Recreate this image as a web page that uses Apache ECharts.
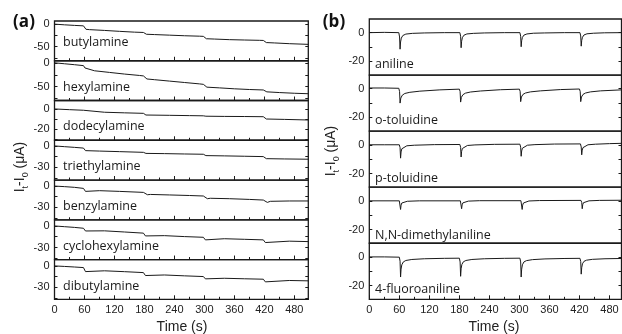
<!DOCTYPE html>
<html><head><meta charset="utf-8">
<script src="https://cdn.jsdelivr.net/npm/echarts@6/dist/echarts.min.js"></script>
<style>html,body{margin:0;padding:0;background:#fff}#c{width:622px;height:334px}</style>
</head><body><div id="c"></div>
<script>
// ---- tick values ----
const xMajorTicks = [0, 60, 120, 180, 240, 300, 360, 420, 480];
const xMinorTicks = [30, 90, 150, 210, 270, 330, 390, 450];

// ---- panel (a): amines, time (s) vs It-I0 (uA) ----
const leftNames = ['butylamine', 'hexylamine', 'dodecylamine', 'triethylamine', 'benzylamine', 'cyclohexylamine', 'dibutylamine'];
const butylamine = [[0,0],[20,-1.5],[40,-2.8],[58,-3.8],[61,-8],[63,-11.5],[70,-12.2],[100,-14],[130,-16],[160,-17.8],[178,-18.5],[181,-20.5],[184,-22.5],[200,-23.2],[230,-24.5],[260,-25.8],[290,-26.8],[298,-27.2],[301,-30],[304,-32.5],[320,-33.2],[350,-34.5],[380,-35.3],[410,-36],[418,-36.3],[421,-39],[424,-41],[440,-41.8],[470,-43.5],[508,-45]];
const hexylamine = [[0,1],[20,-1],[40,-3],[58,-5],[61,-10],[64,-14],[80,-16],[110,-19.5],[140,-23],[170,-26],[178,-27],[181,-30.5],[185,-33.5],[200,-35],[230,-38],[260,-41],[290,-44],[298,-45],[301,-48.5],[305,-51],[330,-52.5],[360,-54.5],[390,-56],[418,-57],[421,-59.5],[425,-61],[450,-62.5],[480,-64],[508,-65]];
const dodecylamine = [[0,0.5],[30,-0.2],[58,-0.8],[62,-2.2],[100,-2.8],[140,-3.4],[178,-3.9],[183,-5.6],[230,-5.9],[270,-6.2],[298,-6.4],[303,-6.8],[340,-7],[380,-7.1],[418,-7.3],[424,-9.6],[460,-10],[508,-10.6]];
const triethylamine = [[0,0],[20,-1],[40,-2],[58,-3],[62,-6.6],[90,-7.2],[130,-8],[178,-9],[183,-10.5],[220,-10.8],[260,-11.3],[298,-11.7],[303,-13.6],[340,-14],[380,-14.5],[418,-15],[424,-17.9],[460,-18.3],[508,-18.7]];
const benzylamine = [[0,0],[20,-0.8],[40,-1.8],[58,-3.3],[62,-7.5],[66,-6.3],[90,-6.5],[130,-7.5],[178,-8.9],[182,-11.2],[186,-12.2],[192,-11.8],[230,-12.5],[270,-13.3],[298,-14],[302,-16.5],[306,-17.8],[312,-17.2],[350,-17.8],[390,-18.8],[418,-19.7],[422,-22],[426,-23],[432,-21.5],[470,-21],[508,-21]];
const cyclohexylamine = [[0,0],[20,-1],[40,-2],[58,-3.2],[62,-7],[66,-5.6],[100,-6.8],[140,-8.4],[178,-10],[182,-13.9],[186,-12.5],[220,-13.5],[260,-14.8],[298,-15.8],[302,-19.4],[306,-17.5],[340,-17.8],[380,-18.6],[418,-19.4],[422,-23.1],[426,-21.3],[470,-21.2],[508,-21.8]];
const dibutylamine = [[0,0],[20,-0.7],[40,-1.5],[58,-2.3],[62,-7.9],[66,-5.6],[100,-6.8],[140,-8],[178,-9.3],[182,-13.4],[186,-11.6],[220,-12.6],[260,-13.8],[298,-14.8],[302,-18],[306,-16.7],[340,-17.2],[380,-17.9],[418,-18.5],[422,-22.2],[426,-20.4],[470,-20.3],[508,-20.8]];
const leftYLabels = [[0,-50],[0,-50],[0,-20],[0,-30],[0,-30],[0,-30],[0,-30]];
const leftYTicks = [[0,-25,-50,-75],[0,-25,-50,-75],[0,-10,-20,-30],[0,-15,-30,-45],[0,-15,-30,-45],[0,-15,-30,-45],[0,-15,-30,-45]];

// ---- panel (b): anilines ----
const rightNames = ['aniline', 'o-toluidine', 'p-toluidine', 'N,N-dimethylaniline', '4-fluoroaniline'];
const aniline = [[0,0],[30,0.2],[59,0],[60.5,-3],[61.5,-11.5],[62.5,-6.5],[64,-3.8],[67,-2],[73,-1],[86,-0.5],[110,-0.2],[150,0],[181,0],[182.5,-2.5],[183.5,-10.5],[184.5,-6],[186,-3.5],[189,-1.8],[195,-0.9],[208,-0.5],[230,-0.2],[270,0],[301,0],[302.5,-2.5],[303.5,-9.8],[304.5,-5.6],[306,-3.3],[309,-1.7],[315,-0.9],[328,-0.4],[350,-0.2],[390,0],[421,0],[422.5,-2.3],[423.5,-9.4],[424.5,-5.4],[426,-3.2],[429,-1.6],[435,-0.8],[448,-0.4],[470,-0.1],[504,0]];
const oToluidine = [[0,0.5],[30,0.5],[59,0.3],[60.5,-2],[61.5,-10],[63,-6.5],[66,-4.5],[71,-3.3],[81,-2.5],[101,-1.7],[141,-0.8],[180,-0.3],[181.5,-2],[182.5,-9.3],[184,-6],[187,-4.2],[192,-3.1],[202,-2.3],[222,-1.6],[262,-0.7],[300,-0.3],[301.5,-2],[302.5,-9],[304,-5.8],[307,-4],[312,-3],[322,-2.2],[342,-1.5],[382,-0.6],[420,-0.2],[421.5,-2],[422.5,-9],[424,-5.8],[427,-4],[432,-3],[442,-2.2],[462,-1.5],[504,-0.8]];
const pToluidine = [[0,0],[30,0],[60,0],[61.5,-2],[62.5,-9.3],[63.5,-5],[65,-2.8],[68,-1.5],[75,-0.7],[90,-0.3],[130,0.1],[181,0.2],[182.5,-1.8],[183.5,-8.5],[184.5,-4.6],[186,-2.6],[189,-1.3],[196,-0.5],[211,-0.1],[250,0.3],[301,0.4],[302.5,-1.7],[303.5,-8],[304.5,-4.3],[306,-2.4],[309,-1.1],[316,-0.3],[331,0.1],[370,0.5],[422,0.6],[423.5,-1.5],[424.5,-7],[425.5,-3.7],[427,-2],[430,-0.8],[437,0],[452,0.4],[480,0.8],[504,1]];
const nnDimethylaniline = [[0,0],[60,0],[61.5,-1.2],[62.5,-6],[63.5,-3],[65,-1.5],[68,-0.7],[76,-0.3],[100,0],[182,0],[183.5,-1.1],[184.5,-5.5],[185.5,-2.8],[187,-1.4],[190,-0.6],[198,-0.2],[220,0.1],[303,0.1],[304.5,-1.2],[305.5,-6],[306.5,-3],[308,-1.5],[311,-0.6],[319,-0.1],[340,0.2],[423,0.3],[424.5,-1.1],[425.5,-5.5],[426.5,-2.7],[428,-1.3],[431,-0.5],[439,0],[460,0.3],[504,0.4]];
const fluoroaniline = [[0,0],[30,0],[60,-0.2],[61.5,-3],[62.5,-14],[63.5,-8.5],[65,-5.5],[68,-3.5],[73,-2.5],[85,-1.8],[110,-1.3],[150,-1],[180,-0.9],[181.5,-3.5],[182.5,-13.5],[183.5,-8.3],[185,-5.3],[188,-3.4],[193,-2.5],[205,-1.8],[230,-1.3],[270,-1],[301,-0.9],[302.5,-3.5],[303.5,-14],[304.5,-8.5],[306,-5.5],[309,-3.5],[314,-2.6],[326,-1.9],[351,-1.4],[391,-1.1],[421,-1],[422.5,-3.2],[423.5,-12],[424.5,-7.5],[426,-4.8],[429,-3.1],[434,-2.3],[446,-1.7],[471,-1.3],[504,-1.1]];
const rightYLabels = [0, -20];
const rightYTicks = [0, -10, -20];

const leftData = [butylamine, hexylamine, dodecylamine, triethylamine, benzylamine, cyclohexylamine, dibutylamine];
const rightData = [aniline, oToluidine, pToluidine, nnDimethylaniline, fluoroaniline];

// ---- layout ----
const ink = '#1a1a1a';
const TICK_FONT = '"Liberation Sans", Arial, sans-serif';
const NAME_FONT = '"Open Sans", sans-serif';
const leftRanges = [[-81.5,7],[-79.5,5.4],[-31,9],[-48,8],[-47.5,8.5],[-46.8,8.6],[-46.5,8.9]];
const leftNameY = [42, 87.5, 126.7, 166.7, 206.7, 246.7, 286.7];
const rightNameY = [64, 120, 178, 235, 289];

const grids = [], xAxes = [], yAxes = [], series = [], graphics = [];

function addPanel(c) {
  const gi = grids.length;
  grids.push({left: c.left, top: c.top, width: c.width, height: c.height, show: true,
    borderColor: ink, borderWidth: 1.3, backgroundColor: 'transparent'});
  const xi = xAxes.length;
  xAxes.push({gridIndex: gi, type: 'value', position: 'bottom', min: 0, max: c.xMax,
    axisLine: {show: false, onZero: false}, splitLine: {show: false},
    axisTick: {show: c.xTicks, inside: true, length: 4, customValues: xMajorTicks, lineStyle: {color: ink, width: 1}},
    axisLabel: {show: c.xLabels, customValues: xMajorTicks, margin: 5, color: '#222', fontSize: 11, fontFamily: TICK_FONT}});
  xAxes.push({gridIndex: gi, type: 'value', position: 'bottom', min: 0, max: c.xMax,
    axisLine: {show: false, onZero: false}, splitLine: {show: false},
    axisTick: {show: c.xTicks, inside: true, length: 2.5, customValues: xMinorTicks, lineStyle: {color: ink, width: 1}},
    axisLabel: {show: false}});
  const yi = yAxes.length;
  yAxes.push({gridIndex: gi, type: 'value', position: 'left', min: c.yMin, max: c.yMax,
    axisLine: {show: false, onZero: false}, splitLine: {show: false},
    axisTick: {inside: true, length: 3, customValues: c.yTicks, lineStyle: {color: ink, width: 1}},
    axisLabel: {customValues: c.yLabels, margin: 5, color: '#222', fontSize: 11, fontFamily: TICK_FONT}});
  yAxes.push({gridIndex: gi, type: 'value', position: 'right', min: c.yMin, max: c.yMax,
    axisLine: {show: false, onZero: false}, splitLine: {show: false},
    axisTick: {inside: true, length: 3, customValues: c.yTicks, lineStyle: {color: ink, width: 1}},
    axisLabel: {show: false}});
  series.push({type: 'line', name: c.name, xAxisIndex: xi, yAxisIndex: yi, data: c.data,
    showSymbol: false, symbol: 'none', clip: true, lineStyle: {color: ink, width: 1}});
  graphics.push({type: 'text', x: c.nameX, y: c.nameY, silent: true,
    style: {text: c.name, fill: ink, font: '12.5px ' + NAME_FONT, align: 'left', verticalAlign: 'middle'}});
}

const lTop = 21, lH = (299.3 - 21) / 7;
leftData.forEach((d, i) => addPanel({
  left: 54.5, top: lTop + i * lH, width: 253.8, height: lH, xMax: 508,
  yMin: leftRanges[i][0], yMax: leftRanges[i][1], yTicks: leftYTicks[i], yLabels: leftYLabels[i],
  xTicks: true, xLabels: i === leftData.length - 1, data: d, name: leftNames[i], nameX: 63, nameY: leftNameY[i]
}));
const rTop = 19, rH = (299.3 - 19) / 5;
rightData.forEach((d, i) => addPanel({
  left: 369.3, top: rTop + i * rH, width: 252.2, height: rH, xMax: 504,
  yMin: -29.5, yMax: 9.5, yTicks: rightYTicks, yLabels: rightYLabels,
  xTicks: i === rightData.length - 1, xLabels: i === rightData.length - 1, data: d, name: rightNames[i], nameX: 375, nameY: rightNameY[i]
}));

// panel letters, axis titles
graphics.push({type: 'text', x: 24, y: 22, style: {text: '(a)', fill: '#111', font: 'bold 17px ' + NAME_FONT, align: 'center', verticalAlign: 'middle'}});
graphics.push({type: 'text', x: 334, y: 22, style: {text: '(b)', fill: '#111', font: 'bold 17px ' + NAME_FONT, align: 'center', verticalAlign: 'middle'}});
graphics.push({type: 'text', x: 182, y: 327, style: {text: 'Time (s)', fill: '#222', font: '14px ' + TICK_FONT, align: 'center', verticalAlign: 'middle'}});
graphics.push({type: 'text', x: 494, y: 327, style: {text: 'Time (s)', fill: '#222', font: '14px ' + TICK_FONT, align: 'center', verticalAlign: 'middle'}});
const yTitleRich = {
  m: {fontSize: 14, fontFamily: TICK_FONT, fill: '#222', lineHeight: 20, verticalAlign: 'middle'},
  s: {fontSize: 9, fontFamily: TICK_FONT, fill: '#222', lineHeight: 10, verticalAlign: 'bottom'}
};
const yTitle = '{m|I}{s|t}{m|-I}{s|0}{m| (μA)}';
graphics.push({type: 'text', x: 20, y: 167, rotation: Math.PI / 2, style: {text: yTitle, rich: yTitleRich, align: 'center', verticalAlign: 'middle'}});
graphics.push({type: 'text', x: 331, y: 151, rotation: Math.PI / 2, style: {text: yTitle, rich: yTitleRich, align: 'center', verticalAlign: 'middle'}});

const chart = echarts.init(document.getElementById('c'), null, {renderer: 'canvas'});
chart.setOption({
  animation: false,
  backgroundColor: '#fff',
  grid: grids, xAxis: xAxes, yAxis: yAxes, series: series, graphic: graphics
});
</script>
</body></html>
